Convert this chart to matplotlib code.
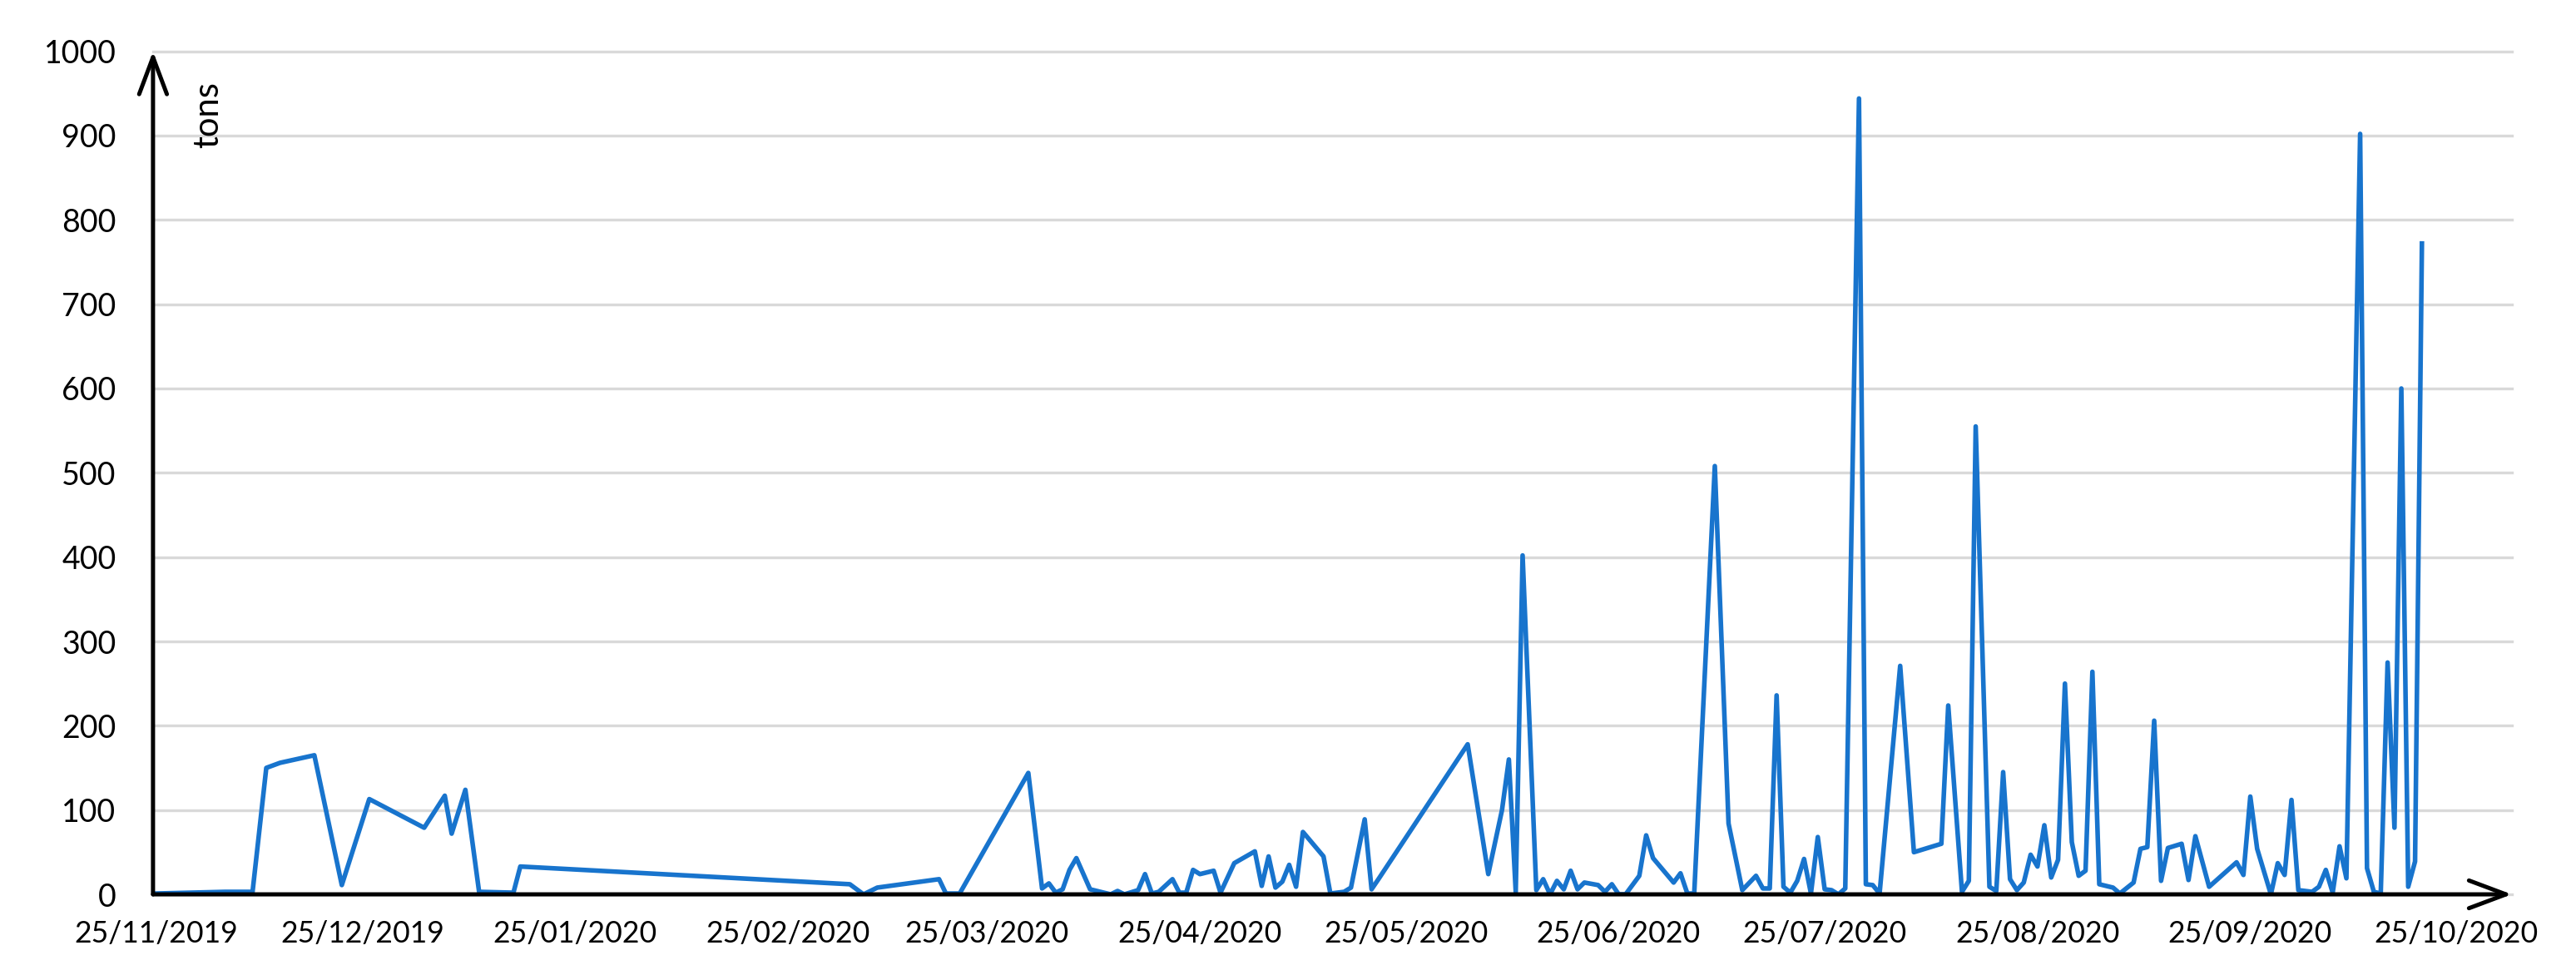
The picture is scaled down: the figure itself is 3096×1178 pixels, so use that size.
import datetime
import matplotlib
matplotlib.use("Agg")
import matplotlib.pyplot as plt
import matplotlib.dates as mdates

plt.rcParams['font.family'] = ['Lato', 'DejaVu Sans']

# first record, all other dates are days after it
start = datetime.date(2019, 11, 25)

day_offsets = [
    0, 5, 10, 14, 16, 18, 23, 27, 31, 39, 42, 43, 45, 47, 52, 53,
    101, 103, 105, 114, 115, 117, 127, 129, 130, 131, 132, 133, 134, 136,
    139, 140, 141, 143, 144, 145, 146, 148, 149, 150, 151, 152, 154, 155,
    157, 160, 161, 162, 163, 164, 165, 166, 167, 170, 171, 173, 174, 176,
    177, 178, 191, 194, 196, 197, 198, 199, 201, 202, 203, 204, 205, 206,
    207, 208, 210, 211, 212, 213, 214, 216, 217, 218, 221, 222, 223, 224,
    227, 229, 231, 233, 234, 235, 236, 237, 238, 239, 240, 241, 242, 243,
    244, 245, 246, 248, 249, 250, 251, 254, 256, 260, 261, 263, 264, 265,
    267, 268, 269, 270, 271, 272, 273, 274, 275, 276, 277, 278, 279, 280,
    281, 282, 283, 285, 286, 288, 289, 290, 291, 292, 293, 295, 296, 297,
    299, 303, 304, 305, 306, 308, 309, 310, 311, 312, 314, 315, 316, 317,
    318, 319, 321, 322, 323, 324, 325, 326, 327, 328, 329, 330,
]
tons = [
    1, 2, 3, 3, 150, 156, 165, 11, 113, 79, 117, 72, 124, 3, 2, 33,
    12, 0, 8, 18, 1, 1, 144, 7, 13, 2, 6, 29, 43, 6,
    0, 4, 0, 5, 24, 1, 3, 18, 2, 2, 29, 24, 28, 2,
    37, 51, 10, 45, 8, 15, 35, 9, 74, 45, 1, 3, 8, 89,
    6, 18, 178, 24, 100, 160, 3, 402, 5, 18, 0, 16, 6, 28,
    6, 14, 11, 3, 12, 0, 0, 22, 70, 43, 14, 25, 1, 1,
    508, 84, 5, 22, 7, 7, 236, 9, 2, 16, 42, 1, 68, 6,
    5, 0, 7, 944, 12, 11, 1, 271, 50, 60, 224, 3, 16, 555,
    9, 4, 145, 18, 5, 14, 47, 33, 82, 20, 41, 250, 62, 22,
    28, 264, 12, 8, 1, 14, 54, 56, 206, 16, 55, 60, 17, 69,
    9, 38, 23, 116, 54, 0, 37, 23, 112, 5, 3, 9, 29, 2,
    57, 19, 902, 31, 3, 1, 275, 79, 600, 9, 39, 772,
]

tick_labels = ['25/11/2019', '25/12/2019', '25/01/2020', '25/02/2020',
               '25/03/2020', '25/04/2020', '25/05/2020', '25/06/2020',
               '25/07/2020', '25/08/2020', '25/09/2020', '25/10/2020']
y_ticks = list(range(0, 1001, 100))

dates = [start + datetime.timedelta(days=d) for d in day_offsets]
tick_dates = [datetime.datetime.strptime(s, '%d/%m/%Y') for s in tick_labels]

fig = plt.figure(figsize=(15.48, 5.89), dpi=200)
ax = fig.add_axes([0.0594, 0.0874, 0.9157, 0.8603])

ax.plot(dates, tons, color='#1874CD', lw=2.0, zorder=3)

x0 = mdates.date2num(start)
ax.set_xlim(x0 - 0.5, x0 + 343.1)
ax.set_ylim(0, 1000)

ax.set_yticks(y_ticks)
ax.set_yticklabels([str(v) for v in y_ticks])
ax.set_xticks(tick_dates)
ax.set_xticklabels(tick_labels)
ax.tick_params(axis='y', length=0, pad=16, labelsize=13.5)
ax.tick_params(axis='x', length=0, pad=11, labelsize=12.8)

ax.grid(axis='y', color='#D9D9D9', lw=1.2)
ax.grid(axis='x', visible=False)
for gl in ax.get_ygridlines():
    gl.set_clip_on(False)
ax.set_axisbelow(True)

for s in ax.spines.values():
    s.set_visible(False)

# axis lines with open arrow heads
arrow = dict(arrowstyle='->,head_length=0.8,head_width=0.3',
             lw=1.8, color='black', mutation_scale=20,
             shrinkA=0, shrinkB=0)
ax.annotate('', xy=(0, 1), xytext=(0, 0), xycoords='axes fraction',
            arrowprops=arrow, annotation_clip=False)
ax.annotate('', xy=(1, 0), xytext=(0, 0), xycoords='axes fraction',
            arrowprops=arrow, annotation_clip=False)

ax.text(0.0233, 0.925, 'tons', transform=ax.transAxes, rotation=90,
        ha='center', va='center', fontsize=15)

fig.savefig('out.png', dpi=200)
